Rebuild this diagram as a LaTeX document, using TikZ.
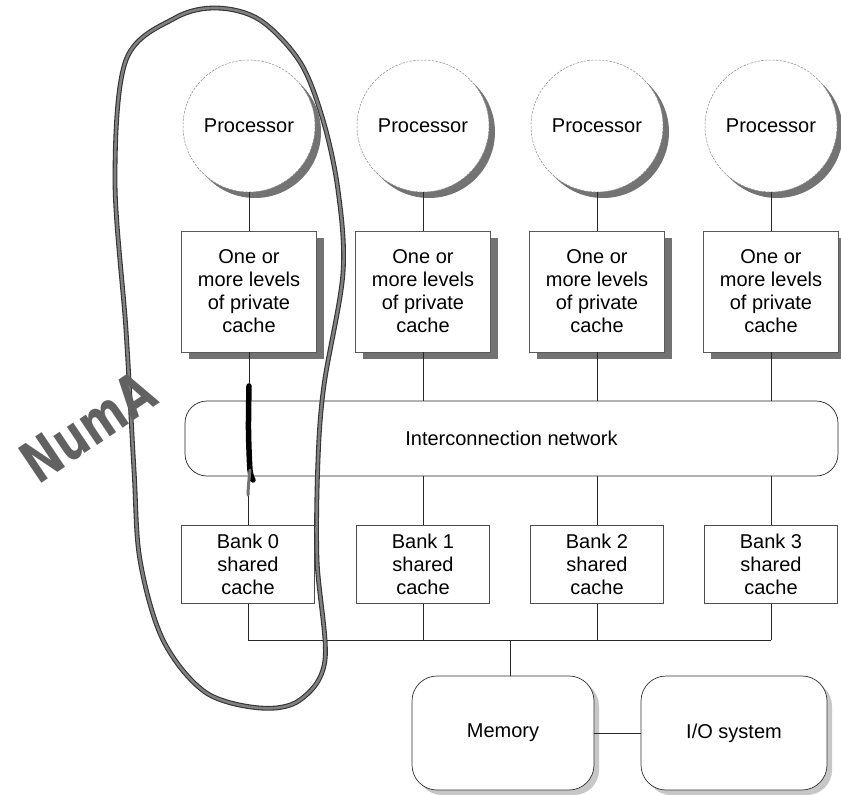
\documentclass[tikz,border=0pt]{standalone}
\usepackage{fontspec}
\setmainfont{Liberation Sans}
\newfontfamily\handfont{DejaVu Sans}
\usetikzlibrary{shadows}

\tikzset{
  lbl/.style={font=\fontsize{20}{23}\selectfont, align=center, inner sep=0pt},
  proc/.style={lbl, circle, draw=black!45, dash pattern=on 2.5pt off 1.2pt,
    line width=0.5pt, fill=white, minimum size=132pt,
    drop shadow={shadow xshift=6pt, shadow yshift=-6pt, fill=black!55, opacity=1}},
  cachebox/.style={lbl, rectangle, draw=black!65, line width=0.6pt, fill=white,
    minimum width=135pt, minimum height=121pt,
    drop shadow={shadow xshift=7pt, shadow yshift=-7pt, fill=black!55, opacity=1}},
  netbox/.style={lbl, rectangle, rounded corners=22pt, draw=black!85,
    line width=0.7pt, fill=white, minimum width=653pt, minimum height=75pt},
  bankbox/.style={lbl, rectangle, draw=black!70, line width=0.6pt, fill=white,
    minimum width=133pt, minimum height=78pt},
  sysbox/.style={lbl, rectangle, rounded corners=25pt, draw=black!80,
    line width=0.7pt, fill=white, minimum height=114pt,
    drop shadow={shadow xshift=5pt, shadow yshift=-5pt, fill=black!22, opacity=1}},
  link/.style={draw=black!85, line width=0.7pt},
  handtext/.style={font=\handfont\bfseries\fontsize{46}{46}\selectfont,
    text=black!62, inner sep=0pt},
}

\begin{document}
\begin{tikzpicture}[x=1pt,y=-1pt]
  \useasboundingbox (0,0) rectangle (841,795);
  \fill[white] (0,0) rectangle (841,795);

  % processors and their private caches
  \foreach \i/\x in {1/249,2/423,3/597,4/771} {
    \node[proc] (p\i) at (\x,126) {Processor};
    \node[cachebox] (c\i) at (\x,291.5) {One or\\more levels\\of private\\cache};
    \draw[link] (p\i.south) -- (c\i.north);
  }

  % interconnection network
  \node[netbox] (net) at (511.5,438.5) {Interconnection network};

  % shared cache banks
  \foreach \i/\x in {0/248,1/423,2/597,3/771} {
    \node[bankbox] (b\i) at (\x,564.5) {Bank \i\\shared\\cache};
  }

  \foreach \i/\j in {1/0,2/1,3/2,4/3} {
    \draw[link] (c\i.south) -- (c\i.south |- net.north);
    \draw[link] (b\j.north |- net.south) -- (b\j.north);
  }

  % bus to memory
  \coordinate (bus) at (510,640);
  \foreach \j in {0,1,2,3} {
    \draw[link] (b\j.south) -- (b\j.south |- bus);
  }
  \draw[link] (b0.south |- bus) -- (b3.south |- bus);

  \node[sysbox, minimum width=182pt] (mem) at (503,733) {Memory};
  \node[sysbox, minimum width=186pt] (io) at (734,733) {I/O system};
  \draw[link] (bus) -- (bus |- mem.north);
  \draw[link] (mem.east) -- (io.west);

  % hand-drawn loop around the first node
  \foreach \w/\c in {4.8pt/black!80, 2.6pt/black!50} {
    \draw[line width=\w, \c, line join=round]
      plot[smooth cycle, tension=0.55] coordinates {
        (338,190) (343,273) (324,385) (318,460) (317,560) (325,660)
        (300,700) (260,708) (205,692) (163,640) (140,560) (134,470)
        (126,330) (115,180) (126,60) (175,18) (217,8) (260,20)
        (300,62) (323,120)};
  }

  % marker stroke over the first cache link
  \draw[line width=5.5pt, line cap=round, black]
    plot[smooth] coordinates {(249,386) (248.5,430) (250,470) (253,480)};
  \draw[line width=3pt, line cap=round, black!55]
    plot[smooth] coordinates {(250,470) (248.5,485) (248,495)};

  % handwritten annotation
  \node[handtext, rotate=34] (numa) at (88,427) {\scalebox{0.95}[1.25]{NumA}};
\end{tikzpicture}
\end{document}
